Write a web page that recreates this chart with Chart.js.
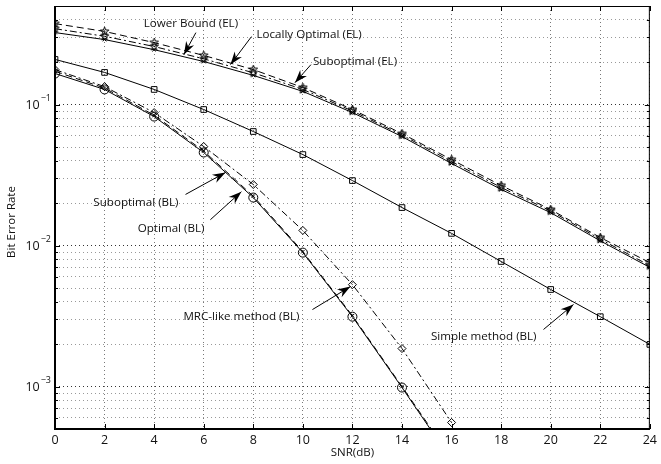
<!DOCTYPE html>
<html><head><meta charset="utf-8">
<script src="https://cdn.jsdelivr.net/npm/chart.js"></script>
<style>html,body{margin:0;padding:0;background:#fff}#wrap{width:661px;height:464px}</style>
</head><body><div id="wrap"><canvas id="c" width="661" height="464"></canvas></div>
<script>
// ---------- data ----------
const snr = [0,2,4,6,8,10,12,14,16,18,20,22,24];
const snrBL = [0,2,4,6,8,10,12,14,16];
const lowerBoundEL   = [0.324,0.289,0.245,0.202,0.161,0.124,0.0877,0.0593,0.0382,0.0250,0.0171,0.0108,0.0070];
const locallyOptEL   = [0.345,0.305,0.258,0.211,0.168,0.128,0.0900,0.0608,0.0394,0.0258,0.0176,0.0111,0.0072];
const suboptimalEL   = [0.375,0.330,0.275,0.223,0.177,0.132,0.0922,0.0622,0.0407,0.0267,0.0180,0.0114,0.00757];
const simpleBL       = [0.209,0.169,0.128,0.0922,0.0644,0.0442,0.0289,0.0186,0.0122,0.00771,0.00488,0.00313,0.00199];
const optimalBL      = [0.166,0.128,0.0822,0.0457,0.0219,0.00891,0.00313,0.000984,0.00030];
const suboptimalBL   = [0.172,0.131,0.0840,0.0468,0.0224,0.00905,0.00318,0.00100,0.00031];
const mrcBL          = [0.177,0.134,0.0877,0.0504,0.0271,0.0128,0.00528,0.00186,0.000556];
const yMin = 5e-4, yMax = 0.5;
const yLabelExps = [-1,-2,-3];

// annotations: head in data coords, tail / text as pixel offsets from head
const notes = [
  {text:'Lower Bound (EL)',      x:5.2,   y:0.226,  tail:[12,-22],  txt:[7,-31],  align:'center'},
  {text:'Locally Optimal (EL)',  x:7.08,  y:0.192,  tail:[21,-28],  txt:[26,-30], align:'left'},
  {text:'Suboptimal (EL)',       x:9.68,  y:0.143,  tail:[16,-18],  txt:[18,-21], align:'left'},
  {text:'Suboptimal (BL)',       x:6.88,  y:0.0330, tail:[-40,22],  txt:[-47,30], align:'right'},
  {text:'Optimal (BL)',          x:7.52,  y:0.0241, tail:[-31,28],  txt:[-37,37], align:'right'},
  {text:'MRC-like method (BL)',  x:11.92, y:0.00512,tail:[-38,23],  txt:[-51,30], align:'right'},
  {text:'Simple method (BL)',    x:20.92, y:0.00382,tail:[-30,25],  txt:[-37,32], align:'right'}
];

const FONT = '"Open Sans", "DejaVu Sans", sans-serif';

function pts(xs, ys){ return ys.map((v,i)=>({x:xs[i], y:v})); }

function makeStar(r){
  const s = Math.ceil(2*r+4);
  const cv = document.createElement('canvas');
  cv.width = s; cv.height = s;
  const g = cv.getContext('2d');
  g.translate(s/2, s/2);
  g.beginPath();
  for (let i=0;i<10;i++){
    const a = -Math.PI/2 + i*Math.PI/5;
    const rr = (i%2===0) ? r : r*0.42;
    const px = rr*Math.cos(a), py = rr*Math.sin(a);
    if(i===0) g.moveTo(px,py); else g.lineTo(px,py);
  }
  g.closePath();
  g.strokeStyle = '#000'; g.lineWidth = 1; g.stroke();
  return cv;
}
const star = makeStar(4.5);

const base = {borderColor:'#000', borderWidth:1, pointBorderColor:'#000', pointBackgroundColor:'rgba(0,0,0,0)', pointBorderWidth:1, fill:false, tension:0};

const datasets = [
  Object.assign({}, base, {label:'Suboptimal (EL)', data:pts(snr,suboptimalEL), borderDash:[7,4], pointStyle:star, pointRadius:5}),
  Object.assign({}, base, {label:'Locally Optimal (EL)', data:pts(snr,locallyOptEL), borderDash:[7,3,2,3], pointStyle:star, pointRadius:5}),
  Object.assign({}, base, {label:'Lower Bound (EL)', data:pts(snr,lowerBoundEL), pointStyle:'crossRot', pointRadius:2.5}),
  Object.assign({}, base, {label:'Simple method (BL)', data:pts(snr,simpleBL), pointStyle:'rect', pointRadius:4}),
  Object.assign({}, base, {label:'MRC-like method (BL)', data:pts(snrBL,mrcBL), borderDash:[7,3,2,3], pointStyle:'rectRot', pointRadius:4}),
  Object.assign({}, base, {label:'Suboptimal (BL)', data:pts(snrBL,suboptimalBL), borderDash:[7,4], pointStyle:'crossRot', pointRadius:2.5}),
  Object.assign({}, base, {label:'Optimal (BL)', data:pts(snrBL,optimalBL), pointStyle:'circle', pointRadius:4.5})
];

function arrowHead(ctx, hx, hy, tx, ty){
  const ang = Math.atan2(hy-ty, hx-tx);
  const L = 13, W = 4.5, N = 9;
  ctx.save();
  ctx.translate(hx, hy); ctx.rotate(ang);
  ctx.beginPath();
  ctx.moveTo(0,0);
  ctx.lineTo(-L, -W);
  ctx.lineTo(-N, 0);
  ctx.lineTo(-L, W);
  ctx.closePath();
  ctx.fillStyle = '#000'; ctx.fill();
  ctx.restore();
}

const decor = {
  id:'decor',
  afterDraw(chart){
    const ctx = chart.ctx, a = chart.chartArea;
    const xs = chart.scales.x, ys = chart.scales.y;
    ctx.save();
    // inside ticks
    ctx.strokeStyle = '#000'; ctx.lineWidth = 1;
    ctx.beginPath();
    for (let v=0; v<=24; v+=2){
      const px = Math.round(xs.getPixelForValue(v))+0.5;
      ctx.moveTo(px, a.bottom); ctx.lineTo(px, a.bottom-5);
      ctx.moveTo(px, a.top); ctx.lineTo(px, a.top+5);
    }
    ys.ticks.forEach(t=>{
      const py = Math.round(ys.getPixelForValue(t.value))+0.5;
      const lg = Math.log10(t.value);
      const major = Math.abs(lg-Math.round(lg))<1e-6;
      const L = major?5:3;
      ctx.moveTo(a.left, py); ctx.lineTo(a.left+L, py);
      ctx.moveTo(a.right, py); ctx.lineTo(a.right-L, py);
    });
    ctx.stroke();
    // box
    ctx.lineWidth = 1;
    ctx.strokeRect(a.left+0.5, a.top+0.5, a.right-a.left-1, a.bottom-a.top-1);
    ctx.lineWidth = 2;
    ctx.beginPath();
    ctx.moveTo(a.left, a.top); ctx.lineTo(a.left, a.bottom); ctx.lineTo(a.right, a.bottom);
    ctx.stroke();
    // y labels 10^e
    ctx.fillStyle = '#111';
    yLabelExps.forEach(e=>{
      const py = ys.getPixelForValue(Math.pow(10,e));
      const exp = '\u2212' + (-e);
      ctx.font = '9px ' + FONT;
      const we = ctx.measureText(exp).width;
      ctx.textAlign = 'right'; ctx.textBaseline = 'middle';
      ctx.fillText(exp, a.left-4, py-6);
      ctx.font = '12.5px ' + FONT;
      ctx.fillText('10', a.left-5-we, py+1);
    });
    // axis titles
    ctx.font = '11.5px ' + FONT;
    ctx.textAlign = 'center'; ctx.textBaseline = 'middle';
    ctx.fillText('SNR(dB)', (a.left+a.right)/2, 453);
    ctx.save();
    ctx.translate(12, 222); ctx.rotate(-Math.PI/2);
    ctx.fillText('Bit Error Rate', 0, 0);
    ctx.restore();
    // annotations
    notes.forEach(n=>{
      const hx = xs.getPixelForValue(n.x), hy = ys.getPixelForValue(n.y);
      const tx = hx+n.tail[0], ty = hy+n.tail[1];
      ctx.strokeStyle = '#000'; ctx.lineWidth = 1;
      ctx.beginPath(); ctx.moveTo(tx,ty); ctx.lineTo(hx,hy); ctx.stroke();
      arrowHead(ctx, hx, hy, tx, ty);
      ctx.font = '11.6px ' + FONT;
      ctx.textAlign = n.align; ctx.textBaseline = 'middle';
      ctx.fillStyle = '#111';
      ctx.fillText(n.text, hx+n.txt[0], hy+n.txt[1]);
    });
    ctx.restore();
  }
};

new Chart(document.getElementById('c'), {
  type:'line',
  data:{datasets},
  options:{
    responsive:false, animation:false, devicePixelRatio:1,
    layout:{padding:{left:0,right:6,top:6,bottom:0}},
    plugins:{legend:{display:false}, tooltip:{enabled:false}},
    scales:{
      x:{type:'linear', min:0, max:24,
        ticks:{stepSize:2, font:{size:12.5, family:FONT}, color:'#111', padding:4, maxRotation:0},
        grid:{color:'#777', lineWidth:1, drawTicks:false},
        border:{display:false, dash:[1,3]},
        afterFit(s){ s.height = 35; }
      },
      y:{type:'logarithmic', min:yMin, max:yMax,
        afterBuildTicks(s){
          const t=[];
          for(let e=-4;e<=-1;e++) for(let m=1;m<=9;m++){ const v=m*Math.pow(10,e); if(v>=yMin*0.999 && v<=yMax*1.001) t.push({value:v}); }
          s.ticks=t;
        },
        ticks:{display:false},
        grid:{drawTicks:false, lineWidth:1, color(c){ const v=c.tick&&c.tick.value; if(!v) return '#999'; const lg=Math.log10(v); return Math.abs(lg-Math.round(lg))<1e-6?'#333':'#999'; }},
        border:{display:false, dash:[1,3]},
        afterFit(s){ s.width = 55; }
      }
    }
  },
  plugins:[decor]
});
</script>
</body></html>
